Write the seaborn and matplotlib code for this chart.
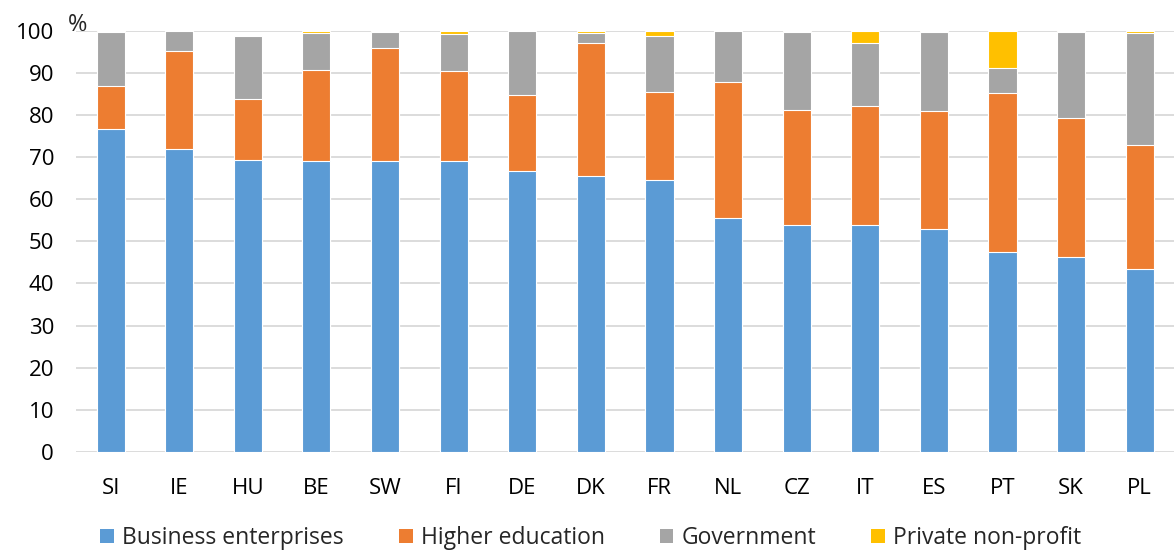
import numpy as np
import pandas as pd
import seaborn as sns
from matplotlib import pyplot as plt
from matplotlib.patches import Patch

countries = ["SI", "IE", "HU", "BE", "SW", "FI", "DE", "DK",
             "FR", "NL", "CZ", "IT", "ES", "PT", "SK", "PL"]
business = [76.6, 72.0, 69.4, 69.0, 69.0, 69.0, 66.8, 65.5,
            64.7, 55.6, 54.0, 53.8, 53.0, 47.5, 46.2, 43.5]
higher_edu = [10.3, 23.2, 14.4, 21.8, 27.0, 21.4, 18.0, 31.7,
              20.9, 32.2, 27.3, 28.4, 28.0, 37.8, 33.2, 29.3]
government = [12.8, 4.8, 15.0, 8.7, 3.8, 8.9, 15.2, 2.4,
              13.1, 12.2, 18.4, 15.0, 18.8, 6.0, 20.4, 26.8]
private_np = [0.3, 0.0, 0.0, 0.5, 0.2, 0.7, 0.0, 0.4,
              1.3, 0.0, 0.3, 2.8, 0.2, 8.7, 0.2, 0.4]

sectors = ["Business enterprises", "Higher education", "Government", "Private non-profit"]
colors = ["#5B9BD5", "#ED7D31", "#A5A5A5", "#FFC000"]

df = pd.DataFrame({"country": countries,
                   sectors[0]: business,
                   sectors[1]: higher_edu,
                   sectors[2]: government,
                   sectors[3]: private_np})

sns.set_style("white")
plt.rcParams["font.family"] = ["Open Sans", "DejaVu Sans"]

fig, ax = plt.subplots(figsize=(11.74, 5.53), dpi=100)
fig.subplots_adjust(left=0.065, right=1.0, top=0.944, bottom=0.183)

# stacked bars: draw cumulative totals from the top layer down
cum = df[sectors].cumsum(axis=1)
for i in range(len(sectors) - 1, -1, -1):
    sns.barplot(x=df["country"], y=cum[sectors[i]], color=colors[i],
                width=0.41, edgecolor="white", linewidth=0.8,
                saturation=1, ax=ax, zorder=3)

ax.set_ylim(0, 100)
ax.set_xlim(-0.5, len(countries) - 0.5)
ax.set_yticks(range(0, 101, 10))
ax.yaxis.grid(True, color="#D9D9D9", linewidth=1.3, zorder=0)
ax.set_axisbelow(True)
for s in ax.spines.values():
    s.set_visible(False)
ax.set_xlabel("")
ax.set_ylabel("")
ax.tick_params(axis="both", length=0, labelsize=16, colors="black")
ax.tick_params(axis="x", pad=19)
ax.tick_params(axis="y", pad=16)
ax.text(-0.008, 0.985, "%", transform=ax.transAxes, fontsize=17,
        ha="left", va="bottom")

handles = [Patch(facecolor=c, edgecolor="none") for c in colors]
fig.legend(handles, sectors, loc="lower left", bbox_to_anchor=(0.068, -0.032),
           ncol=4, frameon=False, fontsize=16.5, handlelength=0.6,
           handleheight=0.6, handletextpad=0.35, columnspacing=2.4)

fig.savefig("out.png", dpi=100)
